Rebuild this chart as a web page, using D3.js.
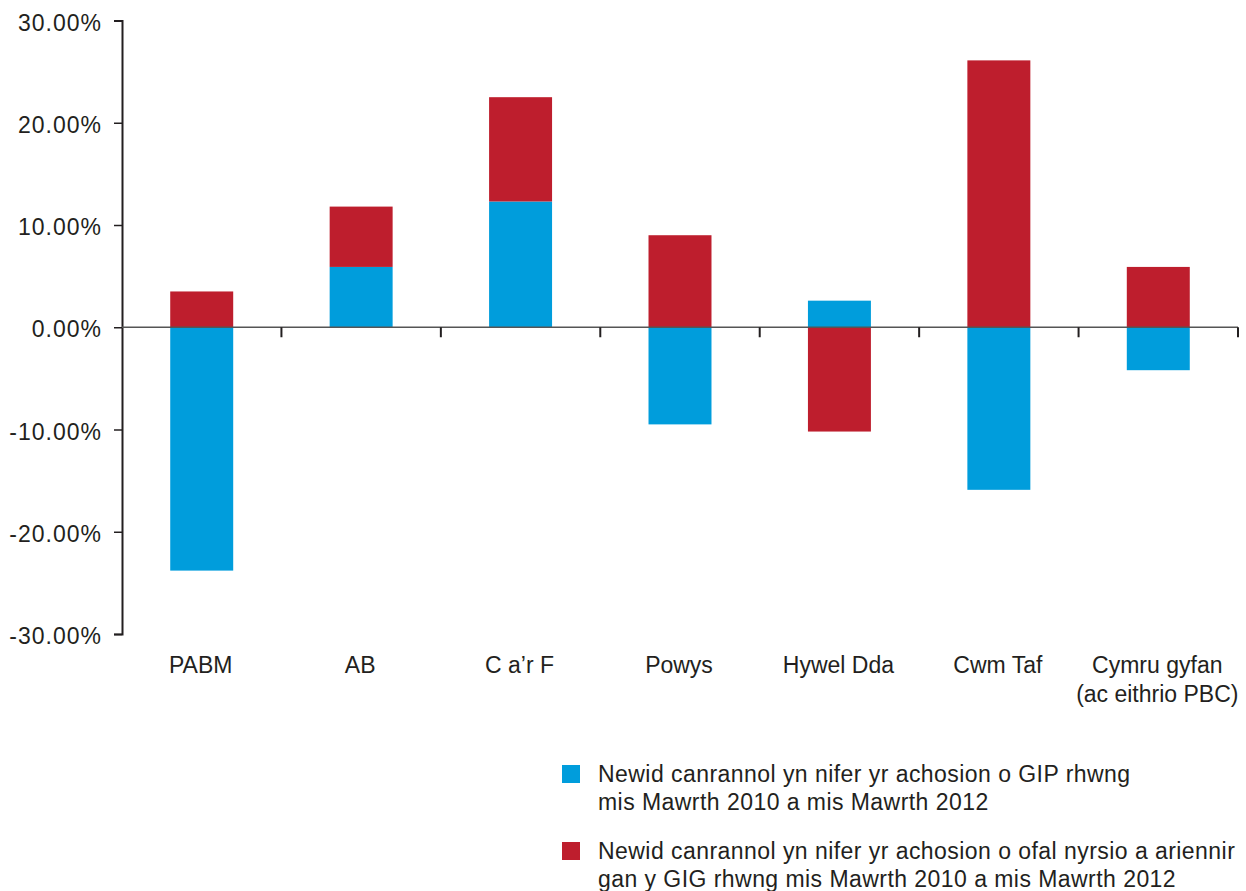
<!DOCTYPE html>
<html>
<head>
<meta charset="utf-8">
<script src="https://cdn.jsdelivr.net/npm/d3@7"></script>
<style>
  body { margin: 0; background: #fff; }
  svg { display: block; font-family: "Liberation Sans", Arial, sans-serif; }
</style>
</head>
<body>
<div id="chart"></div>
<script>
// categories and the two series (percent change, Mar 2010 -> Mar 2012)
const categories = ["PABM", "AB", "C a\u2019r F", "Powys", "Hywel Dda", "Cwm Taf", "Cymru gyfan\n(ac eithrio PBC)"];
const gipChange = [-23.8, 5.9, 12.3, -9.5, 2.6, -15.9, -4.2];
const nursingChange = [3.5, 5.9, 10.2, 9.0, -10.2, 26.1, 5.9];
const yTicks = [-30, -20, -10, 0, 10, 20, 30];
const legendLabels = [
  ["Newid canrannol yn nifer yr achosion o GIP rhwng", "mis Mawrth 2010 a mis Mawrth 2012"],
  ["Newid canrannol yn nifer yr achosion o ofal nyrsio a ariennir", "gan y GIG rhwng mis Mawrth 2010 a mis Mawrth 2012"]
];
const colors = ["#009ddc", "#be1e2d"];

const width = 1246, height = 891;
const plot = {left: 122, right: 1238, top: 20.5, bottom: 634};

const svg = d3.select("#chart").append("svg")
    .attr("width", width)
    .attr("height", height);

const x = d3.scaleBand()
    .domain(categories)
    .range([plot.left, plot.right])
    .padding(0);

const y = d3.scaleLinear()
    .domain([-30, 30])
    .range([plot.bottom, plot.top]);

const table = categories.map((c, i) => ({cat: c, gip: gipChange[i], nursing: nursingChange[i]}));
const series = d3.stack()
    .keys(["gip", "nursing"])
    .offset(d3.stackOffsetDiverging)(table);

const barW = x.bandwidth() * 0.395;

svg.append("g")
  .selectAll("g")
  .data(series)
  .join("g")
    .attr("fill", (d, i) => colors[i])
  .selectAll("rect")
  .data(d => d)
  .join("rect")
    .attr("x", d => x(d.data.cat) + (x.bandwidth() - barW) / 2)
    .attr("y", d => y(Math.max(d[0], d[1])))
    .attr("width", barW)
    .attr("height", d => Math.abs(y(d[0]) - y(d[1])));

// y axis
const yAxis = svg.append("g")
    .attr("transform", `translate(${plot.left},0)`)
    .call(d3.axisLeft(y).tickValues(yTicks).tickSizeOuter(0).tickSize(8)
      .tickFormat(d => d.toFixed(2) + "%"));
yAxis.select(".domain").attr("stroke", "#231f20").attr("stroke-width", 2);
yAxis.selectAll(".tick line").attr("stroke", "#231f20").attr("stroke-width", 1.5);
yAxis.selectAll(".tick text")
    .attr("x", -20)
    .attr("dy", "0.42em")
    .attr("font-size", 23)
    .attr("letter-spacing", 1)
    .attr("fill", "#231f20");

// zero line with category boundary ticks
const zero = svg.append("g").attr("transform", `translate(0,${y(0)})`);
zero.append("line")
    .attr("x1", plot.left).attr("x2", plot.right)
    .attr("stroke", "#555").attr("stroke-width", 1.5);
zero.selectAll(".bt")
  .data(categories)
  .join("line")
    .attr("class", "bt")
    .attr("x1", d => x(d) + x.bandwidth())
    .attr("x2", d => x(d) + x.bandwidth())
    .attr("y1", 0).attr("y2", 10)
    .attr("stroke", "#231f20").attr("stroke-width", 2);

// category labels
svg.append("g")
  .selectAll("text")
  .data(categories)
  .join("text")
    .attr("text-anchor", "middle")
    .attr("font-size", 23)
    .attr("fill", "#231f20")
    .attr("transform", d => `translate(${x(d) + x.bandwidth() / 2 - 1},673)`)
    .each(function(d) {
      d.split("\n").forEach((line, i) => {
        d3.select(this).append("tspan")
          .attr("x", 0)
          .attr("dy", i === 0 ? 0 : 29)
          .text(line);
      });
    });

// legend
const legend = svg.append("g")
  .selectAll("g")
  .data(legendLabels)
  .join("g")
    .attr("transform", (d, i) => `translate(562,${765 + i * 77})`);
legend.append("rect")
    .attr("width", 18).attr("height", 18)
    .attr("fill", (d, i) => colors[i]);
legend.append("text")
    .attr("font-size", 23)
    .attr("letter-spacing", 0.45)
    .attr("fill", "#231f20")
    .selectAll("tspan")
    .data(d => d)
    .join("tspan")
      .attr("x", 36)
      .attr("y", (d, i) => 17 + i * 27.5)
      .text(d => d);
</script>
</body>
</html>
